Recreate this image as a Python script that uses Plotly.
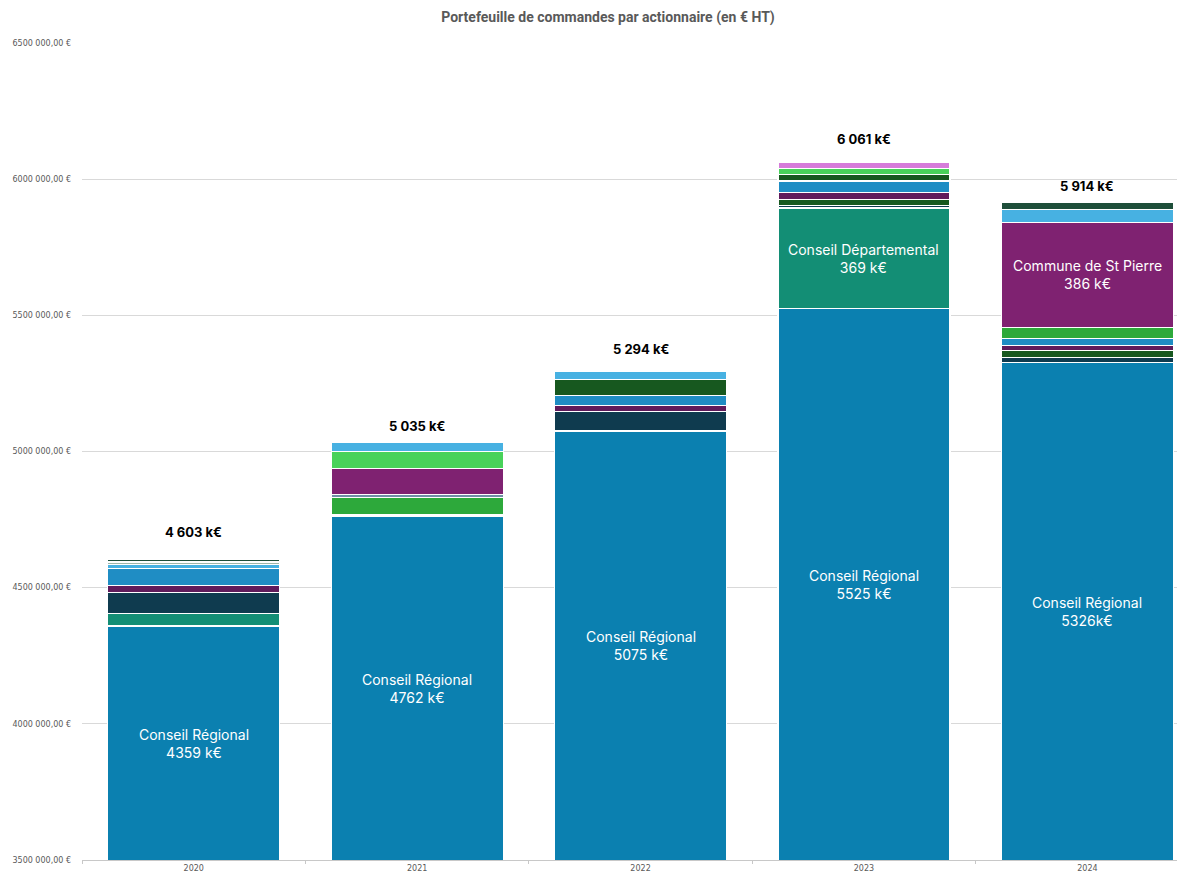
import plotly.graph_objects as go

years = ["2020", "2021", "2022", "2023", "2024"]

# values in k€ (None = shareholder absent that year)
conseil_regional = [4359, 4762, 5075, 5525, 5326]
conseil_departemental = [45, 5, None, 369, None]
actionnaire_navy = [77, None, 72, 10, 18]
actionnaire_vert_fonce_a = [None, None, None, 20, 28]
actionnaire_violet_fonce = [28, None, 23, 26, 16]
actionnaire_bleu = [62, None, 36, 43, 28]
actionnaire_vert = [None, 65, None, None, 40]
actionnaire_ardoise = [None, 11, None, None, None]
commune_st_pierre = [None, 94, None, None, 386]
actionnaire_vert_fonce_b = [None, None, 57, 23, None]
actionnaire_vert_clair = [None, 62, None, 23, None]
actionnaire_bleu_clair = [14, 36, 31, None, 46]
actionnaire_gris_vert = [9, None, None, None, None]
actionnaire_vert_fonce_c = [9, None, None, None, 26]
actionnaire_rose = [None, None, None, 22, None]

totals = [4603, 5035, 5294, 6061, 5914]
total_labels = ["4 603 k€", "5 035 k€", "5 294 k€", "6 061 k€", "5 914 k€"]
cr_labels = ["Conseil Régional<br>4359 k€", "Conseil Régional<br>4762 k€",
             "Conseil Régional<br>5075 k€", "Conseil Régional<br>5525 k€",
             "Conseil Régional<br>5326k€"]

y_tick_values = [3500000, 4000000, 4500000, 5000000, 5500000, 6000000, 6500000]
y_tick_labels = ["3500 000,00 €", "4000 000,00 €", "4500 000,00 €", "5000 000,00 €",
                 "5500 000,00 €", "6000 000,00 €", "6500 000,00 €"]

series = [
    ("Conseil Régional", conseil_regional, "#0B80B0"),
    ("Conseil Départemental", conseil_departemental, "#138E75"),
    ("Actionnaire 3", actionnaire_navy, "#0F3B4F"),
    ("Actionnaire 4", actionnaire_vert_fonce_a, "#17581F"),
    ("Actionnaire 5", actionnaire_violet_fonce, "#601B5B"),
    ("Actionnaire 6", actionnaire_bleu, "#1F8DC4"),
    ("Actionnaire 7", actionnaire_vert, "#2DA93B"),
    ("Actionnaire 8", actionnaire_ardoise, "#6F8FA6"),
    ("Commune de St Pierre", commune_st_pierre, "#7F2271"),
    ("Actionnaire 10", actionnaire_vert_fonce_b, "#17581F"),
    ("Actionnaire 11", actionnaire_vert_clair, "#48D25A"),
    ("Actionnaire 12", actionnaire_bleu_clair, "#47B1E2"),
    ("Actionnaire 13", actionnaire_gris_vert, "#9DB7AA"),
    ("Actionnaire 14", actionnaire_vert_fonce_c, "#1E4E3A"),
    ("Actionnaire 15", actionnaire_rose, "#D67BDA"),
]

fig = go.Figure()
for name, vals, color in series:
    fig.add_trace(go.Bar(
        x=years,
        y=[None if v is None else v * 1000 for v in vals],
        name=name,
        marker=dict(color=color, line=dict(color="white", width=1.2)),
        showlegend=False,
    ))

y_min = 3500000
label_font = dict(family="Inter, Roboto, sans-serif", size=14, color="white")
annotations = []
# Conseil Régional labels, centred in visible part of the bar
for i in range(len(years)):
    annotations.append(dict(
        xref="x", yref="y", x=i, y=(y_min + conseil_regional[i] * 1000) / 2,
        text=cr_labels[i], showarrow=False, font=label_font,
        xanchor="center", yanchor="middle"))

# Conseil Départemental 2023
i = 3
annotations.append(dict(
    xref="x", yref="y", x=i, y=(conseil_regional[i] + conseil_departemental[i] / 2) * 1000,
    text="Conseil Départemental<br>%d k€" % conseil_departemental[i], showarrow=False,
    font=label_font, xanchor="center", yanchor="middle"))

# Commune de St Pierre 2024
i = 4
below = sum(s[1][i] or 0 for s in series[:8])
annotations.append(dict(
    xref="x", yref="y", x=i, y=(below + commune_st_pierre[i] / 2) * 1000,
    text="Commune de St Pierre<br>%d k€" % commune_st_pierre[i], showarrow=False,
    font=label_font, xanchor="center", yanchor="middle"))

label_shift = [18, 6, 12, 14, 7]
for i in range(len(years)):
    annotations.append(dict(
        xref="x", yref="y", x=i, y=totals[i] * 1000, text="<b>%s</b>" % total_labels[i],
        showarrow=False, xanchor="center", yanchor="bottom", yshift=label_shift[i],
        font=dict(family="Inter, Roboto, sans-serif", size=13, color="black")))

fig.update_layout(
    barmode="stack",
    bargap=0.23,
    width=1177, height=867,
    margin=dict(l=74, r=0, t=35, b=15, autoexpand=False),
    paper_bgcolor="white", plot_bgcolor="white",
    title=dict(text="<b>Portefeuille de commandes par actionnaire (en € HT)</b>",
               x=600 / 1177, xanchor="center", y=1 - 9 / 867, yanchor="middle",
               font=dict(family="Liberation Sans Narrow, Roboto, sans-serif", size=14, color="#595959")),
    annotations=annotations,
    xaxis=dict(type="category", range=[-0.5, 4.437], showline=True, linecolor="#C8C8C8",
               ticks="outside", tickson="boundaries", ticklen=3, tickcolor="#C8C8C8",
               tickfont=dict(family="DejaVu Sans", size=8, color="#595959"), showgrid=False),
    yaxis=dict(range=[3500000, 6500000], tickvals=y_tick_values, ticktext=y_tick_labels,
               showgrid=True, gridcolor="#D9D9D9", gridwidth=1, zeroline=False,
               tickfont=dict(family="DejaVu Sans", size=8, color="#595959"), ticklabelstandoff=10),
)

fig.write_html("out.html")
